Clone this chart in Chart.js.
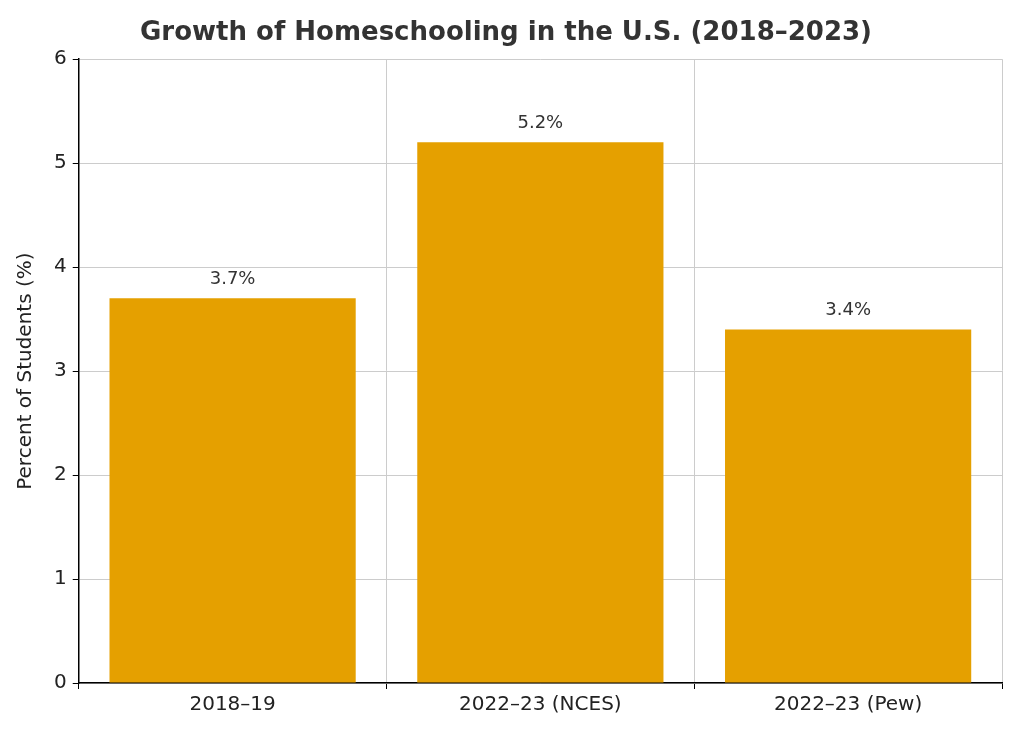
<!DOCTYPE html>
<html>
<head>
<meta charset="utf-8">
<script src="https://cdn.jsdelivr.net/npm/chart.js@4"></script>
<style>
  body { margin: 0; background: #fff; }
  #wrap { width: 1024px; height: 731px; }
</style>
</head>
<body>
<div id="wrap"><canvas id="c" width="1024" height="731"></canvas></div>
<script>
const categories = ['2018–19', '2022–23 (NCES)', '2022–23 (Pew)'];
const percents = [3.7, 5.2, 3.4];
const yTicks = [0, 1, 2, 3, 4, 5, 6];

// etiketleri çubukların üstüne yaz
const valueLabels = {
    id: 'valueLabels',
    afterDatasetsDraw(chart) {
        const ctx = chart.ctx;
        const meta = chart.getDatasetMeta(0);
        ctx.save();
        ctx.font = '18px "DejaVu Sans"';
        ctx.fillStyle = '#333333';
        ctx.textAlign = 'center';
        ctx.textBaseline = 'bottom';
        meta.data.forEach((bar, i) => {
            ctx.fillText(percents[i] + '%', bar.x, bar.y - 10);
        });
        ctx.restore();
    }
};

const grid = {
    color: '#cccccc',
    borderDash: [4, 3],
    tickLength: 6,
    tickColor: '#000'
};

new Chart(document.getElementById('c').getContext('2d'), {
    type: 'bar',
    data: {
        labels: categories,
        datasets: [{
            data: percents,
            backgroundColor: '#E5A000',
            categoryPercentage: 1,
            barPercentage: 0.8
        }]
    },
    options: {
        responsive: false,
        animation: false,
        layout: { padding: { left: 10, right: 22, top: 4, bottom: 10 } },
        plugins: {
            legend: { display: false },
            tooltip: { enabled: false },
            title: {
                display: true,
                text: 'Growth of Homeschooling in the U.S. (2018–2023)',
                color: '#333333',
                font: { family: 'DejaVu Sans', size: 26, weight: 'bold' },
                padding: { top: 14, bottom: 10 }
            }
        },
        scales: {
            x: {
                grid: grid,
                border: { display: true, color: '#000', width: 1.5 },
                ticks: { color: '#222', font: { family: 'DejaVu Sans', size: 20 }, padding: 4 }
            },
            y: {
                min: 0,
                max: 6,
                afterBuildTicks(axis) { axis.ticks = yTicks.map(v => ({ value: v })); },
                grid: grid,
                border: { display: true, color: '#000', width: 1.5 },
                ticks: { color: '#222', font: { family: 'DejaVu Sans', size: 20 }, padding: 6 },
                title: {
                    display: true,
                    text: 'Percent of Students (%)',
                    color: '#222',
                    font: { family: 'DejaVu Sans', size: 20 },
                    padding: { bottom: 10 }
                }
            }
        }
    },
    plugins: [valueLabels]
});
</script>
</body>
</html>
